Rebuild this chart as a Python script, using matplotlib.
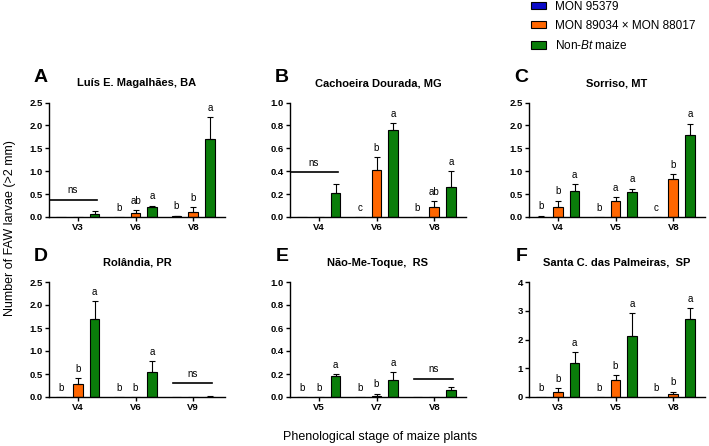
import matplotlib
matplotlib.use("Agg")
import matplotlib.pyplot as plt
from matplotlib.patches import Patch
import numpy as np

plt.rcParams['font.family'] = ['Liberation Sans', 'DejaVu Sans']
plt.rcParams['mathtext.fontset'] = 'custom'
plt.rcParams['mathtext.rm'] = 'Liberation Sans'
plt.rcParams['mathtext.it'] = 'Liberation Sans:italic'

# ---- data ----
panel_letters = ['A', 'B', 'C', 'D', 'E', 'F']
panel_titles = ['Luís E. Magalhães, BA', 'Cachoeira Dourada, MG', 'Sorriso, MT',
                'Rolândia, PR', 'Não-Me-Toque,  RS', 'Santa C. das Palmeiras,  SP']
stages = [['V3', 'V6', 'V8'], ['V4', 'V6', 'V8'], ['V4', 'V5', 'V8'],
          ['V4', 'V6', 'V9'], ['V5', 'V7', 'V8'], ['V3', 'V5', 'V8']]

mon95379     = [[0, 0, 0.02], [0, 0, 0], [0.01, 0, 0], [0, 0, 0], [0, 0, 0], [0, 0, 0]]
mon95379_err = [[0, 0, 0.01], [0, 0, 0], [0.02, 0, 0], [0, 0, 0], [0, 0, 0], [0, 0, 0]]
mon89034     = [[0, 0.09, 0.10], [0, 0.41, 0.09], [0.22, 0.34, 0.83],
                [0.29, 0, 0], [0, 0.01, 0], [0.18, 0.58, 0.12]]
mon89034_err = [[0, 0.07, 0.11], [0, 0.11, 0.05], [0.14, 0.09, 0.11],
                [0.13, 0, 0], [0, 0.02, 0], [0.12, 0.17, 0.07]]
non_bt       = [[0.07, 0.21, 1.70], [0.21, 0.76, 0.26], [0.56, 0.54, 1.80],
                [1.70, 0.54, 0.01], [0.18, 0.15, 0.06], [1.18, 2.13, 2.70]]
non_bt_err   = [[0.07, 0.04, 0.49], [0.08, 0.06, 0.14], [0.16, 0.08, 0.24],
                [0.38, 0.24, 0.01], [0.02, 0.07, 0.03], [0.39, 0.79, 0.38]]

letters_95379 = [['', 'b', 'b'], ['', 'c', 'b'], ['b', 'b', 'c'],
                 ['b', 'b', ''], ['b', 'b', ''], ['b', 'b', 'b']]
letters_89034 = [['', 'ab', 'b'], ['', 'b', 'ab'], ['b', 'a', 'b'],
                 ['b', 'b', ''], ['b', 'b', ''], ['b', 'b', 'b']]
letters_non_bt = [['', 'a', 'a'], ['', 'a', 'a'], ['a', 'a', 'a'],
                  ['a', 'a', ''], ['a', 'a', ''], ['a', 'a', 'a']]

# non-significant groups: (panel index, group index, line height)
ns_groups = [(0, 0, 0.38), (1, 0, 0.39), (3, 2, 0.30), (4, 2, 0.16)]

y_max  = [2.5, 1.0, 2.5, 2.5, 1.0, 4]
y_step = [0.5, 0.2, 0.5, 0.5, 0.2, 1]

series_names = ['MON 95379', 'MON 89034 \u00d7 MON 88017', 'Non-$\\it{Bt}$ maize']
colors = ['#0a0ac8', '#ff6600', '#0a7d0a']

# ---- layout ----
W, H = 709, 446
fig = plt.figure(figsize=(W / 100, H / 100), dpi=100)

col_left = [49, 290, 529]
ax_w = 176
row_top = [102.5, 282]
row_bottom = [217, 397]

offsets = [-0.29, 0, 0.29]
bar_w = 0.17

for i in range(6):
    r, c = divmod(i, 3)
    left = col_left[c]
    ax = fig.add_axes([left / W, 1 - row_bottom[r] / H, ax_w / W,
                       (row_bottom[r] - row_top[r]) / H])
    x = np.arange(len(stages[i]))
    vals = [mon95379[i], mon89034[i], non_bt[i]]
    errs = [mon95379_err[i], mon89034_err[i], non_bt_err[i]]
    lets = [letters_95379[i], letters_89034[i], letters_non_bt[i]]

    for k in range(3):
        xs = x + offsets[k]
        v = np.array(vals[k])
        e = np.array(errs[k])
        ax.bar(xs, v, bar_w, color=colors[k], edgecolor='black', linewidth=0.8, zorder=2)
        show = e > 0
        ax.errorbar(xs[show], v[show], yerr=[np.zeros(show.sum()), e[show]],
                    fmt='none', ecolor='black', elinewidth=0.8, capsize=2.5,
                    capthick=0.8, zorder=3)
        for j in range(len(x)):
            if lets[k][j]:
                ax.annotate(lets[k][j], (xs[j], v[j] + e[j]), xytext=(0, 3),
                            textcoords='offset points', ha='center', va='bottom',
                            fontsize=7)

    for p, g, h in ns_groups:
        if p == i:
            x0 = -0.5 if g == 0 else g - 0.35
            ax.plot([x0, g + 0.33], [h, h], color='black', lw=1.2, zorder=3)
            ax.annotate('ns', ((x0 + g + 0.33) / 2, h), xytext=(0, 3),
                        textcoords='offset points', ha='center', va='bottom',
                        fontsize=7)

    ax.set_xlim(-0.5, 2.55)
    ax.set_ylim(0, y_max[i])
    ticks = np.arange(0, y_max[i] + 1e-9, y_step[i])
    ax.set_yticks(ticks)
    if y_step[i] >= 1:
        ax.set_yticklabels([f'{t:.0f}' for t in ticks])
    else:
        ax.set_yticklabels([f'{t:.1f}' for t in ticks])
    ax.set_xticks(x)
    ax.set_xticklabels(stages[i])
    for lab in ax.get_xticklabels() + ax.get_yticklabels():
        lab.set_fontweight('bold')
        lab.set_fontsize(6.8)
    ax.tick_params(axis='both', length=3, width=1, pad=1.5)
    for s in ['top', 'right']:
        ax.spines[s].set_visible(False)
    for s in ['left', 'bottom']:
        ax.spines[s].set_linewidth(1.0)

    top_px = row_top[r]
    fig.text((left - 1) / W, 1 - (top_px - 25.5) / H, panel_letters[i],
             ha='right', va='center', fontsize=14, fontweight='bold')
    fig.text((left + ax_w / 2) / W, 1 - (top_px - 19.5) / H, panel_titles[i],
             ha='center', va='center', fontsize=8, fontweight='bold')

fig.text(10 / W, 1 - 228 / H, 'Number of FAW larvae (>2 mm)', rotation=90,
         ha='center', va='center', fontsize=9)
fig.text(380 / W, 1 - 437 / H, 'Phenological stage of maize plants',
         ha='center', va='center', fontsize=9)

handles = [Patch(facecolor=c, edgecolor='black', linewidth=0.8) for c in colors]
fig.legend(handles, series_names, loc='upper left', bbox_to_anchor=(531 / W, 1 - 1 / H),
           frameon=False, fontsize=8.5, handlelength=1.3, handleheight=0.55,
           handletextpad=0.75, labelspacing=0.6, borderpad=0, borderaxespad=0)

fig.savefig('out.png', dpi=100)
